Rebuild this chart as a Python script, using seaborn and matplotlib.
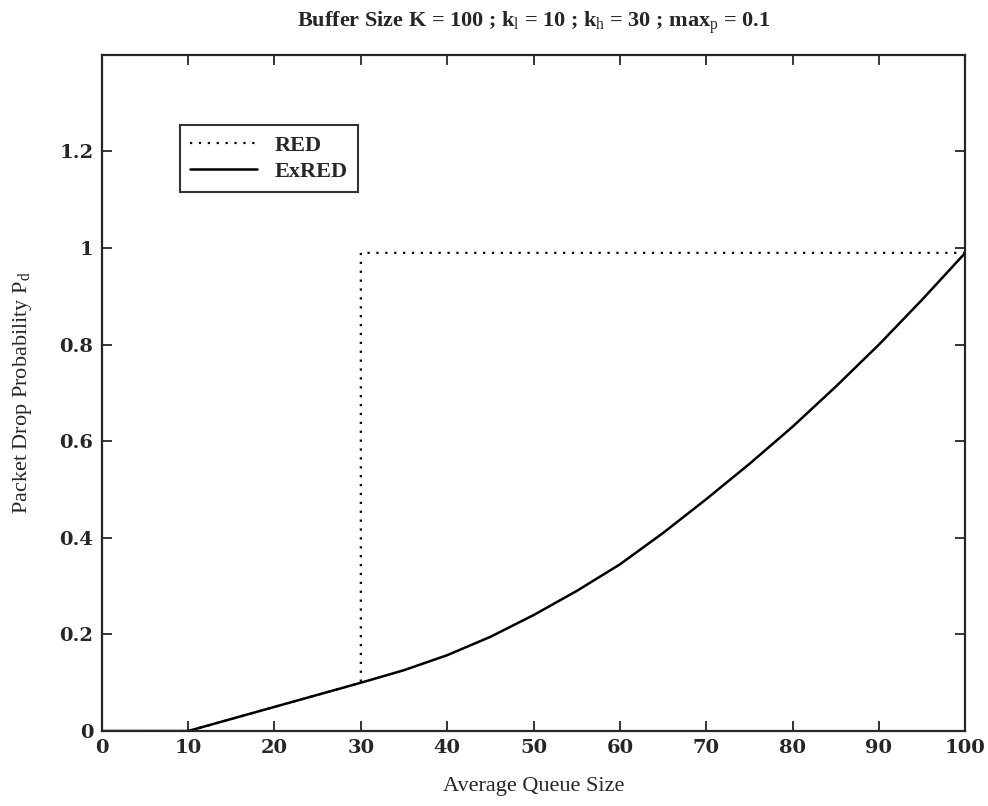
import pandas as pd
import matplotlib.pyplot as plt
import seaborn as sns

# values
exred_x = [0, 10, 15, 20, 25, 30, 35, 40, 45, 50, 55, 60, 65, 70, 75, 80, 85, 90, 95, 100]
exred_y = [0, 0, 0.025, 0.05, 0.075, 0.1, 0.126, 0.157, 0.195, 0.24, 0.29, 0.345,
           0.41, 0.48, 0.553, 0.63, 0.713, 0.8, 0.893, 0.99]

red_x = [0, 10, 20, 30, 30, 100]
red_y = [0, 0, 0.05, 0.1, 0.99, 0.99]

x_ticks = [0, 10, 20, 30, 40, 50, 60, 70, 80, 90, 100]
y_ticks = [0, 0.2, 0.4, 0.6, 0.8, 1, 1.2]
y_tick_labels = ["0", "0.2", "0.4", "0.6", "0.8", "1", "1.2"]

sns.set_style("ticks")
plt.rcParams['font.family'] = ['Liberation Serif', 'DejaVu Serif']
plt.rcParams['mathtext.fontset'] = 'custom'
plt.rcParams['mathtext.rm'] = 'Liberation Serif'
plt.rcParams['mathtext.it'] = 'Liberation Serif'

df_red = pd.DataFrame({"x": red_x, "y": red_y})
df_exred = pd.DataFrame({"x": exred_x, "y": exred_y})

fig = plt.figure(figsize=(9.88, 8.06), dpi=100)
ax = fig.add_axes([0.103, 0.093, 0.874, 0.839])

sns.lineplot(data=df_red, x="x", y="y", ax=ax, color="black", linestyle=(0, (1, 3)),
             linewidth=1.6, estimator=None, sort=False, label="RED")
sns.lineplot(data=df_exred, x="x", y="y", ax=ax, color="black", linewidth=1.8,
             estimator=None, sort=False, label="ExRED")

ax.set_xlim(0, 100)
ax.set_ylim(0, 1.4)
ax.set_xticks(x_ticks)
ax.set_yticks(y_ticks)
ax.set_yticklabels(y_tick_labels)
ax.tick_params(direction="in", length=7, width=1.3, top=True, right=True, pad=6)
for lab in ax.get_xticklabels() + ax.get_yticklabels():
    lab.set_family(['DejaVu Serif'])
    lab.set_fontsize(14)
    lab.set_fontweight("bold")
for sp in ax.spines.values():
    sp.set_linewidth(1.6)

ax.set_xlabel("Average Queue Size", fontsize=16, labelpad=14)
ax.set_ylabel(r"Packet Drop Probability P$_\mathrm{d}$", fontsize=16, labelpad=18)
ax.set_title(r"Buffer Size K = 100 ; k$_\mathrm{l}$ = 10 ; k$_\mathrm{h}$ = 30 ; max$_\mathrm{p}$ = 0.1",
             fontsize=16, fontweight="bold", pad=20)

leg = ax.legend(loc="upper left", bbox_to_anchor=(0.078, 0.912), fontsize=16,
                frameon=True, fancybox=False, edgecolor="black", handlelength=3,
                borderpad=0.45, labelspacing=0.25)
leg.get_frame().set_linewidth(1.5)
for t in leg.get_texts():
    t.set_fontweight("bold")

plt.savefig("out.png", dpi=100)
